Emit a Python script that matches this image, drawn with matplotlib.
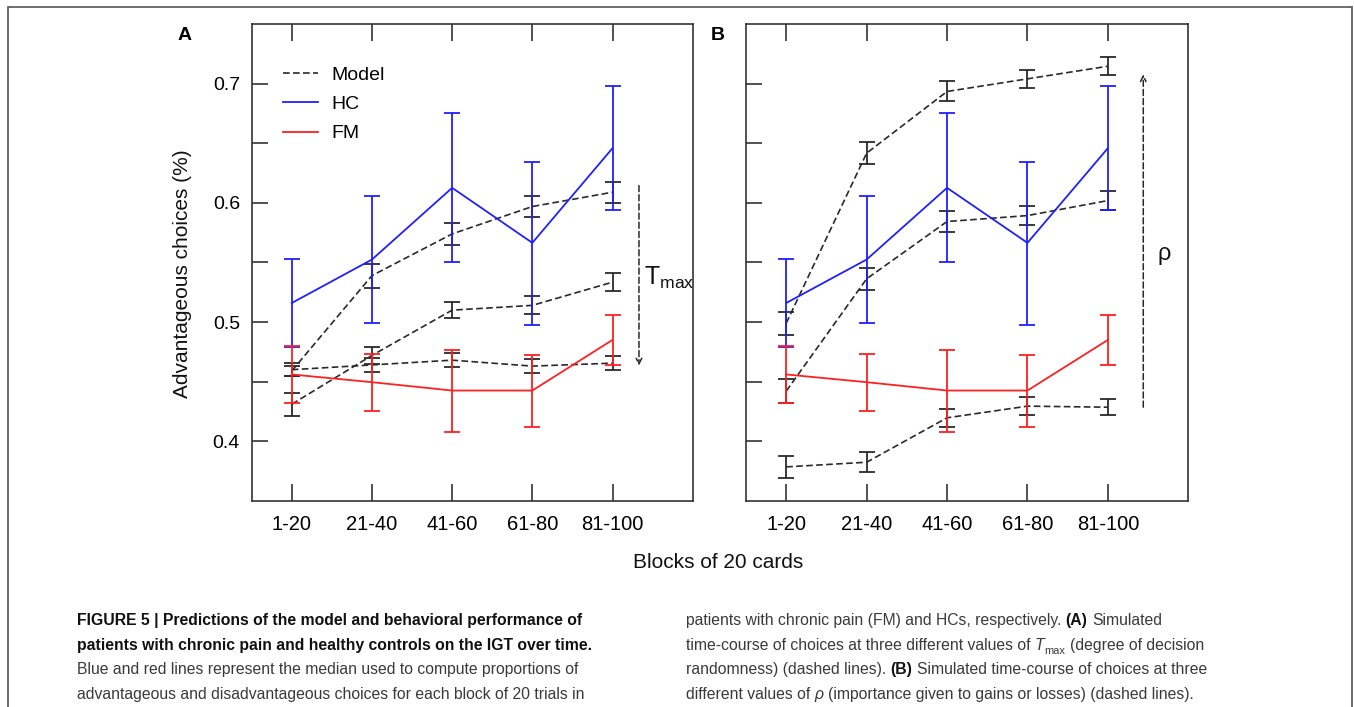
import numpy as np
import matplotlib
matplotlib.use('Agg')
import matplotlib.pyplot as plt
from matplotlib import font_manager
from matplotlib.font_manager import FontProperties
from matplotlib.patches import Rectangle
from matplotlib.lines import Line2D

plt.rcParams['font.family'] = ['Liberation Sans', 'DejaVu Sans']
plt.rcParams['mathtext.fontset'] = 'custom'
plt.rcParams['mathtext.rm'] = 'Liberation Sans'
plt.rcParams['mathtext.it'] = 'Liberation Sans:italic'

# blocks of 20 cards
blocks = ['1-20', '21-40', '41-60', '61-80', '81-100']
x = np.arange(1, 6)

# healthy controls (median, lower, upper)
hc_med = [0.516, 0.5525, 0.6127, 0.5665, 0.646]
hc_lo = [0.479, 0.4996, 0.5505, 0.4977, 0.594]
hc_hi = [0.553, 0.6057, 0.6757, 0.634, 0.6983]

# fibromyalgia patients
fm_med = [0.456, 0.4495, 0.4425, 0.4425, 0.485]
fm_lo = [0.4319, 0.4252, 0.4078, 0.4123, 0.4643]
fm_hi = [0.4803, 0.4733, 0.4767, 0.4722, 0.5063]

# model, panel A (three Tmax values)
tmax_1 = [0.460, 0.464, 0.468, 0.463, 0.4655]
tmax_1_err = [0.0055, 0.006, 0.006, 0.006, 0.006]
tmax_2 = [0.431, 0.472, 0.510, 0.514, 0.5335]
tmax_2_err = [0.0098, 0.007, 0.007, 0.0075, 0.0073]
tmax_3 = [0.459, 0.539, 0.574, 0.597, 0.609]
tmax_3_err = [0.004, 0.010, 0.009, 0.009, 0.0087]

# model, panel B (three rho values)
rho_1 = [0.499, 0.6418, 0.6936, 0.7042, 0.7148]
rho_1_err = [0.0097, 0.0095, 0.0084, 0.0078, 0.0076]
rho_2 = [0.442, 0.5363, 0.5844, 0.5894, 0.602]
rho_2_err = [0.0102, 0.009, 0.0085, 0.008, 0.008]
rho_3 = [0.3784, 0.3823, 0.4196, 0.4294, 0.4285]
rho_3_err = [0.0095, 0.0084, 0.0075, 0.0075, 0.0068]

yticks = [0.4, 0.45, 0.5, 0.55, 0.6, 0.65, 0.7]
yticklabels = ['0.4', '', '0.5', '', '0.6', '', '0.7']

W, H = 1354, 707
fig = plt.figure(figsize=(W / 100, H / 100), dpi=100)

MODEL_C = '#2a2a2a'
HC_C = '#2020ff'
FM_C = '#ff2020'
SPINE_C = '#333333'


def px_axes(l, t, r, b):
    return fig.add_axes([l / W, 1 - b / H, (r - l) / W, (b - t) / H])


def style_axes(ax, labels=True):
    ax.set_xlim(0.5, 6.0)
    ax.set_ylim(0.35, 0.75)
    ax.set_xticks(x)
    ax.set_xticklabels(blocks)
    ax.set_yticks(yticks)
    ax.set_yticklabels(yticklabels if labels else [''] * len(yticks))
    ax.tick_params(axis='x', direction='in', top=True, bottom=True, length=12,
                   width=1.2, pad=10, labelsize=14.5, color=SPINE_C)
    ax.tick_params(axis='y', direction='in', left=True, right=False, length=11.5,
                   width=1.2, pad=8.5, labelsize=14, color=SPINE_C)
    for s in ax.spines.values():
        s.set_linewidth(1.2)
        s.set_color(SPINE_C)


def model(ax, y, e):
    ax.errorbar(x, y, yerr=e, fmt='none', ecolor=MODEL_C, elinewidth=1.3,
                capsize=6, capthick=1.3, zorder=2)
    ax.plot(x, y, color=MODEL_C, lw=1.2, ls=(0, (4, 2)), zorder=2)


def group(ax, med, lo, hi, c):
    med = np.array(med)
    err = [med - np.array(lo), np.array(hi) - med]
    ax.errorbar(x, med, yerr=err, fmt='none', ecolor=c, elinewidth=1.3,
                capsize=6, capthick=1.3, zorder=3)
    ax.plot(x, med, color=c, lw=1.3, zorder=3)


axA = px_axes(251.7, 24.3, 692.7, 500.7)
axB = px_axes(746, 24.3, 1188.3, 500.7)

for ax, series in [(axA, [(tmax_1, tmax_1_err), (tmax_2, tmax_2_err), (tmax_3, tmax_3_err)]),
                   (axB, [(rho_1, rho_1_err), (rho_2, rho_2_err), (rho_3, rho_3_err)])]:
    for y, e in series:
        model(ax, y, e)
    group(ax, hc_med, hc_lo, hc_hi, HC_C)
    group(ax, fm_med, fm_lo, fm_hi, FM_C)

style_axes(axA, True)
style_axes(axB, False)

# legend
handles = [Line2D([], [], color=MODEL_C, lw=1.2, ls=(0, (4, 2))),
           Line2D([], [], color=HC_C, lw=1.3),
           Line2D([], [], color=FM_C, lw=1.3)]
axA.legend(handles, ['Model', 'HC', 'FM'], loc='upper left',
           bbox_to_anchor=(0.07, 0.912), frameon=False, fontsize=14,
           handlelength=1.8, handletextpad=0.7, labelspacing=0.6,
           borderpad=0, borderaxespad=0)

# arrows
axA.annotate('', xy=(5.33, 0.4635), xytext=(5.33, 0.6146),
             arrowprops=dict(arrowstyle='->', ls=(0, (4, 2)), lw=1.1,
                             color=MODEL_C, shrinkA=0, shrinkB=0))
axA.text(5.39, 0.537, r'T$_{\rm max}$', fontsize=18, ha='left', va='center',
         color='#111111')
axB.annotate('', xy=(5.44, 0.708), xytext=(5.44, 0.4285),
             arrowprops=dict(arrowstyle='->', ls=(0, (4, 2)), lw=1.1,
                             color=MODEL_C, shrinkA=0, shrinkB=0))
axB.text(5.62, 0.557, 'ρ', fontsize=17, ha='left', va='center', color='#111111')

# panel letters and axis labels
fig.text(185 / W, 1 - 35 / H, 'A', fontsize=14, fontweight='bold', ha='center', va='center')
fig.text(718 / W, 1 - 35 / H, 'B', fontsize=14, fontweight='bold', ha='center', va='center')
fig.text(183 / W, 1 - 274 / H, 'Advantageous choices (%)', fontsize=15, rotation=90,
         ha='center', va='center', color='#111111')
fig.text(718 / W, 1 - 562 / H, 'Blocks of 20 cards', fontsize=15,
         ha='center', va='center', color='#111111')

# outer frame
fig.patches.append(Rectangle((8 / W, -0.02), (1352 - 8) / W, 1 - 7 / H + 0.02,
                             transform=fig.transFigure, fill=False,
                             edgecolor='#555555', lw=1.2))

# caption
try:
    font_manager.findfont(FontProperties(family='Liberation Sans Narrow'),
                          fallback_to_default=False)
    cap_family = ['Liberation Sans Narrow', 'DejaVu Sans']
except Exception:
    cap_family = ['Liberation Sans', 'DejaVu Sans']

renderer = fig.canvas.get_renderer()


def props(kind, size):
    if kind == 'bold':
        return FontProperties(family=cap_family, weight='bold', size=size)
    if kind == 'italic':
        return FontProperties(family=cap_family, style='italic', size=size)
    if kind == 'sub':
        return FontProperties(family=cap_family, size=size * 0.7)
    return FontProperties(family=cap_family, size=size)


def adv(s, fp):
    a = renderer.get_text_width_height_descent('|' + s + '|', fp, ismath=False)[0]
    b = renderer.get_text_width_height_descent('||', fp, ismath=False)[0]
    return a - b


left_lines = [
    [('FIGURE 5 | Predictions of the model and behavioral performance of', 'bold')],
    [('patients with chronic pain and healthy controls on the IGT over time.', 'bold')],
    [('Blue and red lines represent the median used to compute proportions of', 'normal')],
    [('advantageous and disadvantageous choices for each block of 20 trials in', 'normal')],
]
right_lines = [
    [('patients with chronic pain (FM) and HCs, respectively. ', 'normal'), ('(A)', 'bold'),
     (' Simulated', 'normal')],
    [('time-course of choices at three different values of ', 'normal'), ('T', 'italic'),
     ('max', 'sub'), (' (degree of decision', 'normal')],
    [('randomness) (dashed lines). ', 'normal'), ('(B)', 'bold'),
     (' Simulated time-course of choices at three', 'normal')],
    [('different values of ', 'normal'), ('ρ', 'italic'),
     (' (importance given to gains or losses) (dashed lines).', 'normal')],
]

# fit font size so that a reference line spans the measured width
ref = left_lines[2][0][0]
w13 = adv(ref, props('normal', 13))
cap_size = 13 * 499 / w13

baselines = [625, 649.7, 674.4, 699]


def draw_line(x0, yb, runs):
    xp = x0
    for s, kind in runs:
        fp = props(kind, cap_size)
        lead = len(s) - len(s.lstrip(' '))
        body = s.strip(' ')
        off = adv(' ' * lead, fp) if lead else 0
        dy = cap_size * 0.3 * 100 / 72 if kind == 'sub' else 0
        col = '#111111' if kind == 'bold' else '#3a3a3a'
        if body:
            fig.text((xp + off) / W, 1 - (yb + dy) / H, body, fontproperties=fp,
                     ha='left', va='baseline', color=col)
        xp += adv(s, fp)


for yb, runs in zip(baselines, left_lines):
    draw_line(77, yb, runs)
for yb, runs in zip(baselines, right_lines):
    draw_line(686, yb, runs)

fig.savefig('out.png', dpi=100)
